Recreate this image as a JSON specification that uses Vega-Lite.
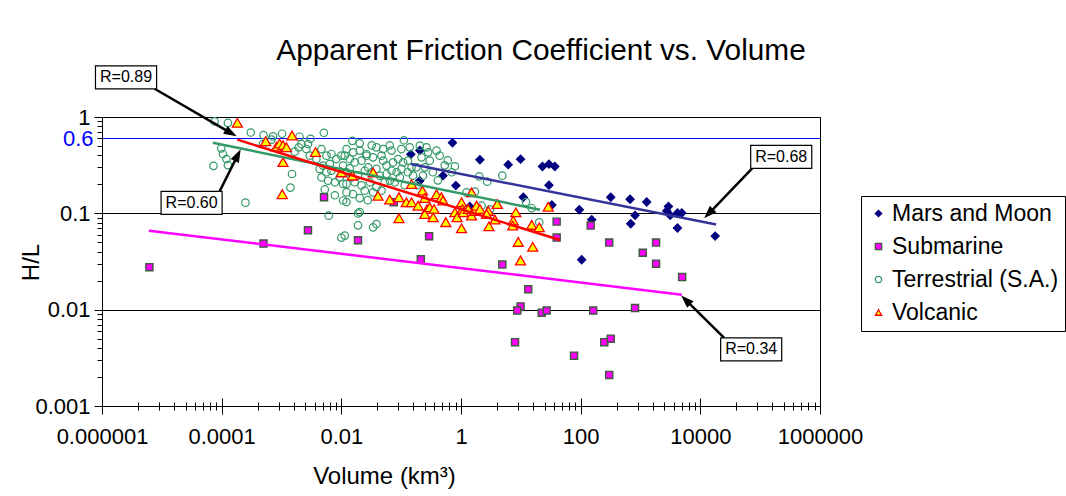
{
  "$schema": "https://vega.github.io/schema/vega-lite/v6.json",
  "width": 718,
  "height": 289,
  "autosize": {"type": "none"},
  "padding": {"left": 102, "top": 117, "right": 246, "bottom": 90},
  "background": "white",
  "title": {
    "text": "Apparent Friction Coefficient vs. Volume",
    "font": "Liberation Sans",
    "fontSize": 29.8,
    "fontWeight": "normal",
    "color": "black",
    "anchor": "middle",
    "dx": 80,
    "dy": 30,
    "offset": 5,
    "baseline": "alphabetic"
  },
  "config": {
    "view": {"stroke": "black", "strokeWidth": 1},
    "font": "Liberation Sans",
    "axis": {"domainColor": "black", "tickColor": "black", "labelColor": "black", "titleColor": "black", "labelFont": "Liberation Sans", "titleFont": "Liberation Sans"},
    "legend": {"orient": "none", "legendX": 759, "legendY": 79, "strokeColor": "black", "fillColor": "white", "padding": 6, "rowPadding": 9, "labelFontSize": 23, "labelFont": "Liberation Sans", "labelColor": "black", "labelOffset": 2, "symbolSize": 40, "symbolStrokeWidth": 1.3, "labelLimit": 300}
  },
  "datasets": {
    "points": [
      {"series": "Mars and Moon", "volume": 0.72, "hl": 0.54},
      {"series": "Mars and Moon", "volume": 0.205, "hl": 0.45},
      {"series": "Mars and Moon", "volume": 0.145, "hl": 0.41},
      {"series": "Mars and Moon", "volume": 2.07, "hl": 0.36},
      {"series": "Mars and Moon", "volume": 6.15, "hl": 0.32},
      {"series": "Mars and Moon", "volume": 9.9, "hl": 0.365},
      {"series": "Mars and Moon", "volume": 23, "hl": 0.306},
      {"series": "Mars and Moon", "volume": 29.5, "hl": 0.324},
      {"series": "Mars and Moon", "volume": 37, "hl": 0.306},
      {"series": "Mars and Moon", "volume": 0.5, "hl": 0.246},
      {"series": "Mars and Moon", "volume": 0.82, "hl": 0.194},
      {"series": "Mars and Moon", "volume": 0.205, "hl": 0.218},
      {"series": "Mars and Moon", "volume": 29.5, "hl": 0.196},
      {"series": "Mars and Moon", "volume": 11, "hl": 0.147},
      {"series": "Mars and Moon", "volume": 33, "hl": 0.122},
      {"series": "Mars and Moon", "volume": 95, "hl": 0.109},
      {"series": "Mars and Moon", "volume": 318, "hl": 0.147},
      {"series": "Mars and Moon", "volume": 153, "hl": 0.086},
      {"series": "Mars and Moon", "volume": 670, "hl": 0.14},
      {"series": "Mars and Moon", "volume": 1270, "hl": 0.131},
      {"series": "Mars and Moon", "volume": 2930, "hl": 0.118},
      {"series": "Mars and Moon", "volume": 2750, "hl": 0.106},
      {"series": "Mars and Moon", "volume": 3130, "hl": 0.0953},
      {"series": "Mars and Moon", "volume": 4150, "hl": 0.1007},
      {"series": "Mars and Moon", "volume": 4900, "hl": 0.1007},
      {"series": "Mars and Moon", "volume": 810, "hl": 0.0953},
      {"series": "Mars and Moon", "volume": 686, "hl": 0.078},
      {"series": "Mars and Moon", "volume": 4150, "hl": 0.0705},
      {"series": "Mars and Moon", "volume": 17700, "hl": 0.058},
      {"series": "Mars and Moon", "volume": 104, "hl": 0.033},
      {"series": "Mars and Moon", "volume": 1.4, "hl": 0.118},
      {"series": "Submarine", "volume": 6.2e-6, "hl": 0.0276},
      {"series": "Submarine", "volume": 5.0e-4, "hl": 0.0485},
      {"series": "Submarine", "volume": 2.77e-3, "hl": 0.0667},
      {"series": "Submarine", "volume": 5.14e-3, "hl": 0.147},
      {"series": "Submarine", "volume": 0.019, "hl": 0.0526},
      {"series": "Submarine", "volume": 0.075, "hl": 0.13},
      {"series": "Submarine", "volume": 0.293, "hl": 0.0578},
      {"series": "Submarine", "volume": 0.213, "hl": 0.0333},
      {"series": "Submarine", "volume": 4.9, "hl": 0.0294},
      {"series": "Submarine", "volume": 13.3, "hl": 0.0163},
      {"series": "Submarine", "volume": 9.9, "hl": 0.0108},
      {"series": "Submarine", "volume": 8.7, "hl": 0.0098},
      {"series": "Submarine", "volume": 22.3, "hl": 0.0093},
      {"series": "Submarine", "volume": 27, "hl": 0.0098},
      {"series": "Submarine", "volume": 162, "hl": 0.0098},
      {"series": "Submarine", "volume": 810, "hl": 0.0104},
      {"series": "Submarine", "volume": 8.0, "hl": 0.0046},
      {"series": "Submarine", "volume": 248, "hl": 0.0046},
      {"series": "Submarine", "volume": 318, "hl": 0.005},
      {"series": "Submarine", "volume": 77.5, "hl": 0.00333},
      {"series": "Submarine", "volume": 300, "hl": 0.0021},
      {"series": "Submarine", "volume": 39.7, "hl": 0.082},
      {"series": "Submarine", "volume": 39.7, "hl": 0.056},
      {"series": "Submarine", "volume": 147, "hl": 0.0746},
      {"series": "Submarine", "volume": 300, "hl": 0.0497},
      {"series": "Submarine", "volume": 1820, "hl": 0.0497},
      {"series": "Submarine", "volume": 1090, "hl": 0.039},
      {"series": "Submarine", "volume": 1820, "hl": 0.03},
      {"series": "Submarine", "volume": 4960, "hl": 0.0218},
      {"series": "Terrestrial (S.A.)", "volume": 7.6e-5, "hl": 0.9},
      {"series": "Terrestrial (S.A.)", "volume": 1.27e-4, "hl": 0.87},
      {"series": "Terrestrial (S.A.)", "volume": 3.06e-4, "hl": 0.69},
      {"series": "Terrestrial (S.A.)", "volume": 5.0e-4, "hl": 0.65},
      {"series": "Terrestrial (S.A.)", "volume": 7.2e-4, "hl": 0.63},
      {"series": "Terrestrial (S.A.)", "volume": 1.02e-3, "hl": 0.67},
      {"series": "Terrestrial (S.A.)", "volume": 2.0e-3, "hl": 0.624},
      {"series": "Terrestrial (S.A.)", "volume": 3.05e-3, "hl": 0.594},
      {"series": "Terrestrial (S.A.)", "volume": 5.1e-3, "hl": 0.686},
      {"series": "Terrestrial (S.A.)", "volume": 9.85e-5, "hl": 0.473},
      {"series": "Terrestrial (S.A.)", "volume": 1.05e-4, "hl": 0.413},
      {"series": "Terrestrial (S.A.)", "volume": 1.2e-4, "hl": 0.366},
      {"series": "Terrestrial (S.A.)", "volume": 1.27e-4, "hl": 0.317},
      {"series": "Terrestrial (S.A.)", "volume": 7.3e-5, "hl": 0.311},
      {"series": "Terrestrial (S.A.)", "volume": 4.9e-4, "hl": 0.524},
      {"series": "Terrestrial (S.A.)", "volume": 1.5e-3, "hl": 0.256},
      {"series": "Terrestrial (S.A.)", "volume": 1.41e-3, "hl": 0.185},
      {"series": "Terrestrial (S.A.)", "volume": 2.5e-4, "hl": 0.129},
      {"series": "Terrestrial (S.A.)", "volume": 1.94e-3, "hl": 0.484},
      {"series": "Terrestrial (S.A.)", "volume": 2.15e-3, "hl": 0.524},
      {"series": "Terrestrial (S.A.)", "volume": 2.6e-3, "hl": 0.465},
      {"series": "Terrestrial (S.A.)", "volume": 1.66e-3, "hl": 0.437},
      {"series": "Terrestrial (S.A.)", "volume": 2.96e-3, "hl": 0.397},
      {"series": "Terrestrial (S.A.)", "volume": 2.77e-3, "hl": 0.524},
      {"series": "Terrestrial (S.A.)", "volume": 4.65e-3, "hl": 0.465},
      {"series": "Terrestrial (S.A.)", "volume": 3.83e-3, "hl": 0.366},
      {"series": "Terrestrial (S.A.)", "volume": 5.64e-3, "hl": 0.397},
      {"series": "Terrestrial (S.A.)", "volume": 6.83e-3, "hl": 0.413},
      {"series": "Terrestrial (S.A.)", "volume": 8.26e-3, "hl": 0.366},
      {"series": "Terrestrial (S.A.)", "volume": 1.0e-2, "hl": 0.397},
      {"series": "Terrestrial (S.A.)", "volume": 4.95e-3, "hl": 0.313},
      {"series": "Terrestrial (S.A.)", "volume": 6.4e-3, "hl": 0.326},
      {"series": "Terrestrial (S.A.)", "volume": 4.35e-3, "hl": 0.289},
      {"series": "Terrestrial (S.A.)", "volume": 5.64e-3, "hl": 0.267},
      {"series": "Terrestrial (S.A.)", "volume": 6.83e-3, "hl": 0.277},
      {"series": "Terrestrial (S.A.)", "volume": 4.65e-3, "hl": 0.236},
      {"series": "Terrestrial (S.A.)", "volume": 6.0e-3, "hl": 0.218},
      {"series": "Terrestrial (S.A.)", "volume": 5.28e-3, "hl": 0.177},
      {"series": "Terrestrial (S.A.)", "volume": 7.8e-3, "hl": 0.21},
      {"series": "Terrestrial (S.A.)", "volume": 9.4e-3, "hl": 0.236},
      {"series": "Terrestrial (S.A.)", "volume": 1.07e-2, "hl": 0.313},
      {"series": "Terrestrial (S.A.)", "volume": 1.07e-2, "hl": 0.202},
      {"series": "Terrestrial (S.A.)", "volume": 1.07e-2, "hl": 0.136},
      {"series": "Terrestrial (S.A.)", "volume": 6.15e-3, "hl": 0.0946},
      {"series": "Terrestrial (S.A.)", "volume": 6.8e-4, "hl": 0.583},
      {"series": "Terrestrial (S.A.)", "volume": 8.8e-4, "hl": 0.465},
      {"series": "Terrestrial (S.A.)", "volume": 1.53e-2, "hl": 0.566},
      {"series": "Terrestrial (S.A.)", "volume": 1.14e-2, "hl": 0.397},
      {"series": "Terrestrial (S.A.)", "volume": 1.38e-2, "hl": 0.366},
      {"series": "Terrestrial (S.A.)", "volume": 1.67e-2, "hl": 0.338},
      {"series": "Terrestrial (S.A.)", "volume": 2.17e-2, "hl": 0.352},
      {"series": "Terrestrial (S.A.)", "volume": 2.63e-2, "hl": 0.397},
      {"series": "Terrestrial (S.A.)", "volume": 3.39e-2, "hl": 0.381},
      {"series": "Terrestrial (S.A.)", "volume": 4.69e-2, "hl": 0.397},
      {"series": "Terrestrial (S.A.)", "volume": 5.0e-2, "hl": 0.352},
      {"series": "Terrestrial (S.A.)", "volume": 5.7e-2, "hl": 0.313},
      {"series": "Terrestrial (S.A.)", "volume": 7.3e-2, "hl": 0.338},
      {"series": "Terrestrial (S.A.)", "volume": 8.9e-2, "hl": 0.366},
      {"series": "Terrestrial (S.A.)", "volume": 0.108, "hl": 0.338},
      {"series": "Terrestrial (S.A.)", "volume": 0.13, "hl": 0.352},
      {"series": "Terrestrial (S.A.)", "volume": 0.149, "hl": 0.3},
      {"series": "Terrestrial (S.A.)", "volume": 0.18, "hl": 0.3},
      {"series": "Terrestrial (S.A.)", "volume": 0.219, "hl": 0.381},
      {"series": "Terrestrial (S.A.)", "volume": 0.265, "hl": 0.484},
      {"series": "Terrestrial (S.A.)", "volume": 0.282, "hl": 0.43},
      {"series": "Terrestrial (S.A.)", "volume": 0.3, "hl": 0.352},
      {"series": "Terrestrial (S.A.)", "volume": 0.248, "hl": 0.3},
      {"series": "Terrestrial (S.A.)", "volume": 0.232, "hl": 0.246},
      {"series": "Terrestrial (S.A.)", "volume": 1.22e-2, "hl": 0.267},
      {"series": "Terrestrial (S.A.)", "volume": 1.48e-2, "hl": 0.236},
      {"series": "Terrestrial (S.A.)", "volume": 1.9e-2, "hl": 0.246},
      {"series": "Terrestrial (S.A.)", "volume": 2.46e-2, "hl": 0.277},
      {"series": "Terrestrial (S.A.)", "volume": 2.8e-2, "hl": 0.3},
      {"series": "Terrestrial (S.A.)", "volume": 3.19e-2, "hl": 0.267},
      {"series": "Terrestrial (S.A.)", "volume": 3.86e-2, "hl": 0.289},
      {"series": "Terrestrial (S.A.)", "volume": 4.4e-2, "hl": 0.246},
      {"series": "Terrestrial (S.A.)", "volume": 5.7e-2, "hl": 0.256},
      {"series": "Terrestrial (S.A.)", "volume": 6.9e-2, "hl": 0.277},
      {"series": "Terrestrial (S.A.)", "volume": 8.4e-2, "hl": 0.267},
      {"series": "Terrestrial (S.A.)", "volume": 0.101, "hl": 0.289},
      {"series": "Terrestrial (S.A.)", "volume": 0.13, "hl": 0.267},
      {"series": "Terrestrial (S.A.)", "volume": 0.158, "hl": 0.246},
      {"series": "Terrestrial (S.A.)", "volume": 1.22e-2, "hl": 0.202},
      {"series": "Terrestrial (S.A.)", "volume": 1.67e-2, "hl": 0.21},
      {"series": "Terrestrial (S.A.)", "volume": 2.17e-2, "hl": 0.195},
      {"series": "Terrestrial (S.A.)", "volume": 2.46e-2, "hl": 0.172},
      {"series": "Terrestrial (S.A.)", "volume": 2.99e-2, "hl": 0.21},
      {"series": "Terrestrial (S.A.)", "volume": 3.86e-2, "hl": 0.187},
      {"series": "Terrestrial (S.A.)", "volume": 5.3e-2, "hl": 0.21},
      {"series": "Terrestrial (S.A.)", "volume": 6.45e-2, "hl": 0.218},
      {"series": "Terrestrial (S.A.)", "volume": 7.8e-2, "hl": 0.21},
      {"series": "Terrestrial (S.A.)", "volume": 9.5e-2, "hl": 0.236},
      {"series": "Terrestrial (S.A.)", "volume": 1.22e-2, "hl": 0.165},
      {"series": "Terrestrial (S.A.)", "volume": 1.57e-2, "hl": 0.158},
      {"series": "Terrestrial (S.A.)", "volume": 3.39e-2, "hl": 0.165},
      {"series": "Terrestrial (S.A.)", "volume": 4.69e-2, "hl": 0.172},
      {"series": "Terrestrial (S.A.)", "volume": 2.03e-2, "hl": 0.103},
      {"series": "Terrestrial (S.A.)", "volume": 3.86e-2, "hl": 0.0774},
      {"series": "Terrestrial (S.A.)", "volume": 3.39e-2, "hl": 0.0716},
      {"series": "Terrestrial (S.A.)", "volume": 1.14e-2, "hl": 0.0587},
      {"series": "Terrestrial (S.A.)", "volume": 0.79, "hl": 0.308},
      {"series": "Terrestrial (S.A.)", "volume": 1.24, "hl": 0.165},
      {"series": "Terrestrial (S.A.)", "volume": 1.71, "hl": 0.168},
      {"series": "Terrestrial (S.A.)", "volume": 0.39, "hl": 0.448},
      {"series": "Terrestrial (S.A.)", "volume": 0.44, "hl": 0.397},
      {"series": "Terrestrial (S.A.)", "volume": 0.205, "hl": 0.504},
      {"series": "Terrestrial (S.A.)", "volume": 0.139, "hl": 0.484},
      {"series": "Terrestrial (S.A.)", "volume": 0.101, "hl": 0.465},
      {"series": "Terrestrial (S.A.)", "volume": 6.9e-2, "hl": 0.448},
      {"series": "Terrestrial (S.A.)", "volume": 5.0e-2, "hl": 0.465},
      {"series": "Terrestrial (S.A.)", "volume": 3.86e-2, "hl": 0.484},
      {"series": "Terrestrial (S.A.)", "volume": 2.63e-2, "hl": 0.413},
      {"series": "Terrestrial (S.A.)", "volume": 1.57e-2, "hl": 0.43},
      {"series": "Terrestrial (S.A.)", "volume": 1.22e-2, "hl": 0.465},
      {"series": "Terrestrial (S.A.)", "volume": 2.03e-2, "hl": 0.448},
      {"series": "Terrestrial (S.A.)", "volume": 2.02, "hl": 0.242},
      {"series": "Terrestrial (S.A.)", "volume": 2.74, "hl": 0.213},
      {"series": "Terrestrial (S.A.)", "volume": 4.9, "hl": 0.246},
      {"series": "Terrestrial (S.A.)", "volume": 2.21, "hl": 0.12},
      {"series": "Terrestrial (S.A.)", "volume": 3.05, "hl": 0.11},
      {"series": "Terrestrial (S.A.)", "volume": 12.2, "hl": 0.131},
      {"series": "Terrestrial (S.A.)", "volume": 15.2, "hl": 0.113},
      {"series": "Terrestrial (S.A.)", "volume": 20.3, "hl": 0.0807},
      {"series": "Terrestrial (S.A.)", "volume": 1.22e-2, "hl": 0.131},
      {"series": "Terrestrial (S.A.)", "volume": 1.9e-2, "hl": 0.0999},
      {"series": "Terrestrial (S.A.)", "volume": 1.9e-2, "hl": 0.0751},
      {"series": "Terrestrial (S.A.)", "volume": 1.0e-2, "hl": 0.056},
      {"series": "Terrestrial (S.A.)", "volume": 0.6, "hl": 0.355},
      {"series": "Terrestrial (S.A.)", "volume": 0.7, "hl": 0.267},
      {"series": "Terrestrial (S.A.)", "volume": 0.535, "hl": 0.315},
      {"series": "Terrestrial (S.A.)", "volume": 0.338, "hl": 0.267},
      {"series": "Terrestrial (S.A.)", "volume": 0.41, "hl": 0.22},
      {"series": "Terrestrial (S.A.)", "volume": 0.182, "hl": 0.196},
      {"series": "Terrestrial (S.A.)", "volume": 0.115, "hl": 0.196},
      {"series": "Terrestrial (S.A.)", "volume": 2.03e-2, "hl": 0.144},
      {"series": "Terrestrial (S.A.)", "volume": 2.76e-2, "hl": 0.137},
      {"series": "Terrestrial (S.A.)", "volume": 7.8e-3, "hl": 0.154},
      {"series": "Terrestrial (S.A.)", "volume": 1.38e-2, "hl": 0.293},
      {"series": "Terrestrial (S.A.)", "volume": 2.03e-2, "hl": 0.533},
      {"series": "Terrestrial (S.A.)", "volume": 3.22e-2, "hl": 0.508},
      {"series": "Terrestrial (S.A.)", "volume": 6.45e-2, "hl": 0.508},
      {"series": "Terrestrial (S.A.)", "volume": 0.111, "hl": 0.573},
      {"series": "Volcanic", "volume": 1.83e-4, "hl": 0.87},
      {"series": "Volcanic", "volume": 5.44e-4, "hl": 0.56},
      {"series": "Volcanic", "volume": 8.2e-4, "hl": 0.49},
      {"series": "Volcanic", "volume": 9.3e-4, "hl": 0.53},
      {"series": "Volcanic", "volume": 1.06e-3, "hl": 0.51},
      {"series": "Volcanic", "volume": 1.21e-3, "hl": 0.485},
      {"series": "Volcanic", "volume": 1.5e-3, "hl": 0.643},
      {"series": "Volcanic", "volume": 3.7e-3, "hl": 0.432},
      {"series": "Volcanic", "volume": 1.06e-3, "hl": 0.34},
      {"series": "Volcanic", "volume": 1.03e-3, "hl": 0.158},
      {"series": "Volcanic", "volume": 1.0e-2, "hl": 0.266},
      {"series": "Volcanic", "volume": 3.4e-2, "hl": 0.266},
      {"series": "Volcanic", "volume": 1.53e-2, "hl": 0.246},
      {"series": "Volcanic", "volume": 4.1e-2, "hl": 0.152},
      {"series": "Volcanic", "volume": 6.45e-2, "hl": 0.139},
      {"series": "Volcanic", "volume": 9.2e-2, "hl": 0.147},
      {"series": "Volcanic", "volume": 0.122, "hl": 0.13},
      {"series": "Volcanic", "volume": 0.149, "hl": 0.13},
      {"series": "Volcanic", "volume": 0.149, "hl": 0.201},
      {"series": "Volcanic", "volume": 0.192, "hl": 0.12},
      {"series": "Volcanic", "volume": 0.227, "hl": 0.172},
      {"series": "Volcanic", "volume": 0.248, "hl": 0.144},
      {"series": "Volcanic", "volume": 0.271, "hl": 0.1107},
      {"series": "Volcanic", "volume": 0.248, "hl": 0.0984},
      {"series": "Volcanic", "volume": 0.3, "hl": 0.1155},
      {"series": "Volcanic", "volume": 0.355, "hl": 0.1107},
      {"series": "Volcanic", "volume": 0.39, "hl": 0.158},
      {"series": "Volcanic", "volume": 0.47, "hl": 0.147},
      {"series": "Volcanic", "volume": 0.5, "hl": 0.136},
      {"series": "Volcanic", "volume": 0.342, "hl": 0.091},
      {"series": "Volcanic", "volume": 0.092, "hl": 0.089},
      {"series": "Volcanic", "volume": 0.557, "hl": 0.081},
      {"series": "Volcanic", "volume": 0.79, "hl": 0.1024},
      {"series": "Volcanic", "volume": 0.86, "hl": 0.091},
      {"series": "Volcanic", "volume": 1.02, "hl": 0.13},
      {"series": "Volcanic", "volume": 1.06, "hl": 0.1107},
      {"series": "Volcanic", "volume": 1.09, "hl": 0.1024},
      {"series": "Volcanic", "volume": 1.32, "hl": 0.1107},
      {"series": "Volcanic", "volume": 1.5, "hl": 0.165},
      {"series": "Volcanic", "volume": 1.5, "hl": 0.0947},
      {"series": "Volcanic", "volume": 1.71, "hl": 0.106},
      {"series": "Volcanic", "volume": 1.82, "hl": 0.12},
      {"series": "Volcanic", "volume": 1.02, "hl": 0.0699},
      {"series": "Volcanic", "volume": 2.07, "hl": 0.1107},
      {"series": "Volcanic", "volume": 2.85, "hl": 0.106},
      {"series": "Volcanic", "volume": 2.68, "hl": 0.0984},
      {"series": "Volcanic", "volume": 3.69, "hl": 0.086},
      {"series": "Volcanic", "volume": 2.93, "hl": 0.0733},
      {"series": "Volcanic", "volume": 4.03, "hl": 0.125},
      {"series": "Volcanic", "volume": 8.25, "hl": 0.1024},
      {"series": "Volcanic", "volume": 7.45, "hl": 0.084},
      {"series": "Volcanic", "volume": 7.3, "hl": 0.0746},
      {"series": "Volcanic", "volume": 15.2, "hl": 0.0758},
      {"series": "Volcanic", "volume": 20.3, "hl": 0.0716},
      {"series": "Volcanic", "volume": 28.7, "hl": 0.117},
      {"series": "Volcanic", "volume": 9.05, "hl": 0.0505},
      {"series": "Volcanic", "volume": 15.8, "hl": 0.0449},
      {"series": "Volcanic", "volume": 9.9, "hl": 0.0324}
    ],
    "trends": [
      {"series": "Mars and Moon", "volume": 0.145, "hl": 0.325},
      {"series": "Mars and Moon", "volume": 18400, "hl": 0.0764},
      {"series": "Submarine", "volume": 6.07e-6, "hl": 0.0661},
      {"series": "Submarine", "volume": 4900, "hl": 0.0143},
      {"series": "Terrestrial (S.A.)", "volume": 7.14e-5, "hl": 0.54},
      {"series": "Terrestrial (S.A.)", "volume": 20.9, "hl": 0.109},
      {"series": "Volcanic", "volume": 1.83e-4, "hl": 0.582},
      {"series": "Volcanic", "volume": 45.1, "hl": 0.0528}
    ],
    "notes": [
      {"label": "R=0.89", "vx": 2.52e-6, "hy": 2.585, "vx1": 7.78e-7, "vx2": 8.17e-6, "hy1": 1.963, "hy2": 3.4},
      {"label": "R=0.60", "vx": 3.145e-5, "hy": 0.1285, "vx1": 9.71e-6, "vx2": 1.018e-4, "hy1": 0.0976, "hy2": 0.1692},
      {"label": "R=0.68", "vx": 224900, "hy": 0.386, "vx1": 69440, "vx2": 727800, "hy1": 0.2934, "hy2": 0.5083},
      {"label": "R=0.34", "vx": 70800, "hy": 0.003871, "vx1": 21860, "vx2": 229100, "hy1": 0.002939, "hy2": 0.005095}
    ],
    "arrows": [
      {"note": "R=0.89", "fromV": 7.56e-6, "fromH": 1.963, "toV": 1.456e-4, "toH": 0.677, "tipV": 1.779e-4, "tipH": 0.63},
      {"note": "R=0.60", "fromV": 9.24e-5, "fromH": 0.1692, "toV": 1.871e-4, "toH": 0.406, "tipV": 2.076e-4, "tipH": 0.462},
      {"note": "R=0.68", "fromV": 73570, "fromH": 0.2934, "toV": 13610, "toH": 0.0983, "tipV": 11580, "tipH": 0.0887},
      {"note": "R=0.34", "fromV": 25010, "fromH": 0.005095, "toV": 5632, "toH": 0.01273, "tipV": 4773, "tipH": 0.01407}
    ]
  },
  "layer": [
    {
      "data": {"name": "points"},
      "transform": [{"filter": "datum.series === 'Mars and Moon'"}],
      "mark": {"type": "point", "strokeWidth": 1.3, "opacity": 1, "size": 64},
      "encoding": {
        "x": {
          "field": "volume", "type": "quantitative",
          "scale": {"type": "log", "domain": [1e-6, 1000000], "nice": false},
          "axis": {
            "orient": "bottom",
            "values": [1e-6, 4e-6, 9e-6, 1.6e-5, 2.5e-5, 3.6e-5, 4.9e-5, 6.4e-5, 8.1e-5,
                       1e-4, 4e-4, 9e-4, 1.6e-3, 2.5e-3, 3.6e-3, 4.9e-3, 6.4e-3, 8.1e-3,
                       0.01, 0.04, 0.09, 0.16, 0.25, 0.36, 0.49, 0.64, 0.81,
                       1, 4, 9, 16, 25, 36, 49, 64, 81,
                       100, 400, 900, 1600, 2500, 3600, 4900, 6400, 8100,
                       10000, 40000, 90000, 160000, 250000, 360000, 490000, 640000, 810000, 1000000],
            "labelExpr": "abs(log(datum.value)/LN10 - round(log(datum.value)/LN10)) < 0.001 ? format(datum.value, '~f') : ''",
            "labelFontSize": 22,
            "labelFlush": false,
            "labelOverlap": false,
            "labelPadding": 12,
            "tickSize": {"condition": {"test": "abs(log(datum.value)/LN10 - round(log(datum.value)/LN10)) < 0.001", "value": 8}, "value": 4},
            "grid": false,
            "title": "Volume (km³)",
            "titleFontSize": 24,
            "titleFontWeight": "normal",
            "titleX": 282,
            "titleY": 77,
            "titleBaseline": "alphabetic"
          }
        },
        "y": {
          "field": "hl", "type": "quantitative",
          "scale": {"type": "log", "domain": [0.001, 1], "nice": false},
          "axis": {
            "orient": "left",
            "values": [0.001, 0.002, 0.003, 0.004, 0.005, 0.006, 0.007, 0.008, 0.009,
                       0.01, 0.02, 0.03, 0.04, 0.05, 0.06, 0.07, 0.08, 0.09,
                       0.1, 0.2, 0.3, 0.4, 0.5, 0.6, 0.7, 0.8, 0.9, 1],
            "labelExpr": "abs(log(datum.value)/LN10 - round(log(datum.value)/LN10)) < 0.001 ? format(datum.value, '~f') : (abs(datum.value - 0.6) < 1e-6 ? '0.6' : '')",
            "labelFontSize": 22,
            "labelFlush": false,
            "labelOverlap": false,
            "labelPadding": 4,
            "labelColor": {"condition": {"test": "abs(datum.value - 0.6) < 1e-6", "value": "blue"}, "value": "black"},
            "tickSize": {"condition": {"test": "abs(log(datum.value)/LN10 - round(log(datum.value)/LN10)) < 0.001", "value": 8}, "value": 5},
            "grid": true,
            "gridWidth": 1,
            "gridColor": {"condition": {"test": "abs(log(datum.value)/LN10 - round(log(datum.value)/LN10)) < 0.001", "value": "black"}, "value": "blue"},
            "gridOpacity": {"condition": {"test": "abs(log(datum.value)/LN10 - round(log(datum.value)/LN10)) < 0.001 || abs(datum.value - 0.6) < 1e-6", "value": 1}, "value": 0},
            "title": "H/L",
            "titleFontSize": 24,
            "titleFontWeight": "normal",
            "titleX": -71,
            "titleY": 145,
            "titleAlign": "center",
            "titleBaseline": "middle"
          }
        },
        "shape": {
          "field": "series", "type": "nominal", "title": null,
          "scale": {"domain": ["Mars and Moon", "Submarine", "Terrestrial (S.A.)", "Volcanic"], "range": ["diamond", "square", "circle", "triangle-up"]}
        },
        "fill": {
          "field": "series", "type": "nominal", "title": null,
          "scale": {"domain": ["Mars and Moon", "Submarine", "Terrestrial (S.A.)", "Volcanic"], "range": ["#000080", "#FF00FF", "transparent", "#FFFF00"]}
        },
        "stroke": {
          "field": "series", "type": "nominal", "title": null,
          "scale": {"domain": ["Mars and Moon", "Submarine", "Terrestrial (S.A.)", "Volcanic"], "range": ["#000080", "#3B5B3B", "#339966", "#FF0000"]}
        }
      }
    },
    {
      "data": {"name": "points"},
      "transform": [{"filter": "datum.series === 'Submarine'"}],
      "mark": {"type": "point", "strokeWidth": 1.4, "opacity": 1, "size": 50},
      "encoding": {
        "x": {"field": "volume", "type": "quantitative", "axis": null},
        "y": {"field": "hl", "type": "quantitative", "axis": null},
        "shape": {"field": "series", "type": "nominal", "title": null},
        "fill": {"field": "series", "type": "nominal", "title": null},
        "stroke": {"field": "series", "type": "nominal", "title": null}
      }
    },
    {
      "data": {"name": "points"},
      "transform": [{"filter": "datum.series === 'Terrestrial (S.A.)'"}],
      "mark": {"type": "point", "strokeWidth": 1.2, "opacity": 1, "size": 56},
      "encoding": {
        "x": {"field": "volume", "type": "quantitative", "axis": null},
        "y": {"field": "hl", "type": "quantitative", "axis": null},
        "shape": {"field": "series", "type": "nominal", "title": null},
        "fill": {"field": "series", "type": "nominal", "title": null},
        "stroke": {"field": "series", "type": "nominal", "title": null}
      }
    },
    {
      "data": {"name": "points"},
      "transform": [{"filter": "datum.series === 'Volcanic'"}],
      "mark": {"type": "point", "strokeWidth": 1.3, "opacity": 1, "size": 100},
      "encoding": {
        "x": {"field": "volume", "type": "quantitative", "axis": null},
        "y": {"field": "hl", "type": "quantitative", "axis": null},
        "shape": {"field": "series", "type": "nominal", "title": null},
        "fill": {"field": "series", "type": "nominal", "title": null},
        "stroke": {"field": "series", "type": "nominal", "title": null}
      }
    },
    {
      "data": {"name": "trends"},
      "transform": [{"filter": "datum.series === 'Terrestrial (S.A.)'"}],
      "mark": {"type": "line", "color": "#339966", "strokeWidth": 2.5},
      "encoding": {
        "x": {
          "field": "volume", "type": "quantitative",
          "axis": {
            "orient": "bottom",
            "values": [1e-6, 4e-6, 9e-6, 1.6e-5, 2.5e-5, 3.6e-5, 4.9e-5, 6.4e-5, 8.1e-5,
                       1e-4, 4e-4, 9e-4, 1.6e-3, 2.5e-3, 3.6e-3, 4.9e-3, 6.4e-3, 8.1e-3,
                       0.01, 0.04, 0.09, 0.16, 0.25, 0.36, 0.49, 0.64, 0.81,
                       1, 4, 9, 16, 25, 36, 49, 64, 81,
                       100, 400, 900, 1600, 2500, 3600, 4900, 6400, 8100,
                       10000, 40000, 90000, 160000, 250000, 360000, 490000, 640000, 810000, 1000000],
            "labels": false,
            "domain": false,
            "grid": false,
            "title": null,
            "tickSize": {"condition": {"test": "abs(log(datum.value)/LN10 - round(log(datum.value)/LN10)) < 0.001", "value": -8}, "value": -4}
          }
        },
        "y": {"field": "hl", "type": "quantitative", "axis": null}
      }
    },
    {
      "data": {"name": "trends"},
      "transform": [{"filter": "datum.series === 'Volcanic'"}],
      "mark": {"type": "line", "color": "#FF0000", "strokeWidth": 2.5},
      "encoding": {
        "x": {"field": "volume", "type": "quantitative", "axis": null},
        "y": {"field": "hl", "type": "quantitative", "axis": null}
      }
    },
    {
      "data": {"name": "trends"},
      "transform": [{"filter": "datum.series === 'Mars and Moon'"}],
      "mark": {"type": "line", "color": "#333399", "strokeWidth": 2.5},
      "encoding": {
        "x": {"field": "volume", "type": "quantitative", "axis": null},
        "y": {"field": "hl", "type": "quantitative", "axis": null}
      }
    },
    {
      "data": {"name": "trends"},
      "transform": [{"filter": "datum.series === 'Submarine'"}],
      "mark": {"type": "line", "color": "#FF00FF", "strokeWidth": 2.5},
      "encoding": {
        "x": {"field": "volume", "type": "quantitative", "axis": null},
        "y": {"field": "hl", "type": "quantitative", "axis": null}
      }
    },
    {
      "data": {"name": "arrows"},
      "mark": {"type": "rule", "color": "black", "strokeWidth": 2.5},
      "encoding": {
        "x": {"field": "fromV", "type": "quantitative", "axis": null},
        "y": {"field": "fromH", "type": "quantitative", "axis": null},
        "x2": {"field": "toV"},
        "y2": {"field": "toH"}
      }
    },
    {
      "data": {"name": "arrows"},
      "transform": [{"filter": "datum.note === 'R=0.89'"}],
      "mark": {"type": "point", "shape": "M0,0L0.7,2L-0.7,2Z", "filled": true, "color": "black", "opacity": 1, "size": 169, "angle": 120},
      "encoding": {
        "x": {"field": "tipV", "type": "quantitative", "axis": null},
        "y": {"field": "tipH", "type": "quantitative", "axis": null}
      }
    },
    {
      "data": {"name": "arrows"},
      "transform": [{"filter": "datum.note === 'R=0.60'"}],
      "mark": {"type": "point", "shape": "M0,0L0.7,2L-0.7,2Z", "filled": true, "color": "black", "opacity": 1, "size": 169, "angle": 26.6},
      "encoding": {
        "x": {"field": "tipV", "type": "quantitative", "axis": null},
        "y": {"field": "tipH", "type": "quantitative", "axis": null}
      }
    },
    {
      "data": {"name": "arrows"},
      "transform": [{"filter": "datum.note === 'R=0.68'"}],
      "mark": {"type": "point", "shape": "M0,0L0.7,2L-0.7,2Z", "filled": true, "color": "black", "opacity": 1, "size": 169, "angle": 223.9},
      "encoding": {
        "x": {"field": "tipV", "type": "quantitative", "axis": null},
        "y": {"field": "tipH", "type": "quantitative", "axis": null}
      }
    },
    {
      "data": {"name": "arrows"},
      "transform": [{"filter": "datum.note === 'R=0.34'"}],
      "mark": {"type": "point", "shape": "M0,0L0.7,2L-0.7,2Z", "filled": true, "color": "black", "opacity": 1, "size": 169, "angle": 314.7},
      "encoding": {
        "x": {"field": "tipV", "type": "quantitative", "axis": null},
        "y": {"field": "tipH", "type": "quantitative", "axis": null}
      }
    },
    {
      "data": {"name": "notes"},
      "mark": {"type": "rect", "fill": "white", "stroke": "black", "strokeWidth": 1.2},
      "encoding": {
        "x": {"field": "vx1", "type": "quantitative", "axis": null},
        "x2": {"field": "vx2"},
        "y": {"field": "hy1", "type": "quantitative", "axis": null},
        "y2": {"field": "hy2"}
      }
    },
    {
      "data": {"name": "notes"},
      "mark": {"type": "text", "font": "Liberation Sans", "fontSize": 16, "color": "black", "align": "center", "baseline": "middle"},
      "encoding": {
        "x": {"field": "vx", "type": "quantitative", "axis": null},
        "y": {"field": "hy", "type": "quantitative", "axis": null},
        "text": {"field": "label"}
      }
    }
  ],
  "resolve": {"axis": {"x": "independent", "y": "independent"}}
}
